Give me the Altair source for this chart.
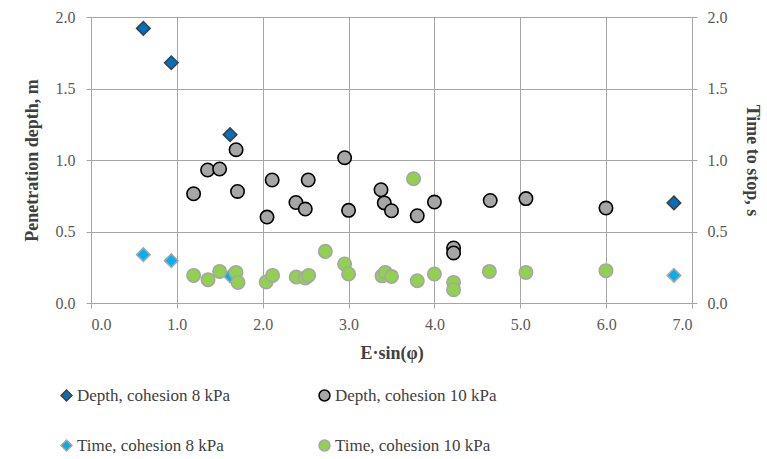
import altair as alt
import pandas as pd

D8, D10, T8, T10 = ("Depth, cohesion 8 kPa", "Depth, cohesion 10 kPa",
                    "Time, cohesion 8 kPa", "Time, cohesion 10 kPa")
SERIES = [D8, T8, D10, T10]

depth8_x = [0.61, 0.935, 1.62, 6.79]
depth8_y = [1.92, 1.68, 1.177, 0.70]

depth10_x = [1.195, 1.358, 1.498, 1.69, 1.707, 2.05, 2.11, 2.387, 2.496, 2.53, 2.954,
             3.0, 3.378, 3.416, 3.50, 3.80, 4.0, 4.223, 4.223, 4.65, 5.066, 5.998]
depth10_y = [0.764, 0.93, 0.937, 1.072, 0.78, 0.601, 0.86, 0.703, 0.657, 0.86, 1.016,
             0.648, 0.792, 0.70, 0.645, 0.61, 0.706, 0.385, 0.35, 0.717, 0.73, 0.664]

time8_x = [0.61, 0.935, 1.62, 6.79]
time8_y = [0.338, 0.296, 0.19, 0.193]

time10_x = [1.195, 1.363, 1.498, 1.689, 1.712, 2.04, 2.115, 2.39, 2.496, 2.535, 2.729, 2.954,
            3.0, 3.39, 3.428, 3.50, 3.757, 3.80, 4.0, 4.223, 4.223, 4.64, 5.066, 5.998]
time10_y = [0.193, 0.163, 0.221, 0.214, 0.144, 0.147, 0.193, 0.182, 0.175, 0.193, 0.361, 0.273,
            0.203, 0.19, 0.214, 0.186, 0.869, 0.156, 0.203, 0.144, 0.093, 0.221, 0.214, 0.226]

x_ticks = [0, 1, 2, 3, 4, 5, 6, 7]
y_ticks = [0, 0.5, 1.0, 1.5, 2.0]

depth_df = pd.concat([
    pd.DataFrame({"x": depth8_x, "y": depth8_y, "series": D8}),
    pd.DataFrame({"x": depth10_x, "y": depth10_y, "series": D10}),
], ignore_index=True)
depth_df["order"] = range(len(depth_df))

time_df = pd.concat([
    pd.DataFrame({"x": time8_x, "y": time8_y, "series": T8}),
    pd.DataFrame({"x": time10_x, "y": time10_y, "series": T10}),
], ignore_index=True)
time_df["order"] = range(len(time_df))

FONT = "Liberation Serif"
GRID = "#A6A6A6"
FILLS = {D8: "#0070C0", D10: "#A6A6A6", T8: "#00B0F0", T10: "#92D050"}
STROKES = {D8: "#404040", D10: "#000000", T8: "#A6A6A6", T10: "#A6A6A6"}
SHAPES = {D8: "diamond", D10: "circle", T8: "diamond", T10: "circle"}

x_enc = alt.X("x:Q", scale=alt.Scale(domain=[0, 7], nice=False),
              axis=alt.Axis(values=x_ticks, format=".1f", title="E·sin(φ)",
                            grid=True, titlePadding=12, labelPadding=8))

legend = alt.Legend(title=None, orient="none", legendX=-33, legendY=370,
                    columns=2, columnPadding=86, rowPadding=32,
                    labelFont=FONT, labelFontSize=17, labelColor="#404040",
                    labelLimit=0, symbolSize=120, symbolStrokeWidth=1.5,
                    labelOffset=2, padding=0)

fill_enc = alt.Fill("series:N", scale=alt.Scale(domain=SERIES,
                    range=[FILLS[s] for s in SERIES]), legend=legend)
stroke_enc = alt.Stroke("series:N", scale=alt.Scale(domain=SERIES,
                        range=[STROKES[s] for s in SERIES]), legend=legend)
shape_enc = alt.Shape("series:N", scale=alt.Scale(domain=SERIES,
                      range=[SHAPES[s] for s in SERIES]), legend=legend)

depth = alt.Chart(depth_df).mark_point(filled=False, size=180, strokeWidth=1.6, opacity=1).encode(
    x=x_enc,
    y=alt.Y("y:Q", scale=alt.Scale(domain=[0, 2], nice=False),
            axis=alt.Axis(orient="left", values=y_ticks, format=".1f",
                          title="Penetration depth, m", grid=True,
                          titlePadding=14, labelPadding=11)),
    fill=fill_enc, stroke=stroke_enc, shape=shape_enc,
    order=alt.Order("order:Q"),
)

time = alt.Chart(time_df).mark_point(filled=False, size=180, strokeWidth=1.6, opacity=1).encode(
    x=x_enc,
    y=alt.Y("y:Q", scale=alt.Scale(domain=[0, 2], nice=False),
            axis=alt.Axis(orient="right", values=y_ticks, format=".1f",
                          title="Time to stop, s", grid=False,
                          titlePadding=15, labelPadding=10)),
    fill=fill_enc, stroke=stroke_enc, shape=shape_enc,
    order=alt.Order("order:Q"),
)

chart = alt.layer(depth, time).resolve_scale(y="independent").properties(
    width=601, height=286,
    autosize=alt.AutoSizeParams(type="none"),
    padding={"left": 91, "top": 17, "right": 75, "bottom": 156},
    background="white",
).configure_view(stroke=None).configure_axis(
    labelFont=FONT, labelFontSize=16, labelColor="#595959",
    titleFont=FONT, titleFontSize=18, titleFontWeight="bold", titleColor="#404040",
    gridColor=GRID, gridWidth=1, gridOpacity=1,
    domainColor=GRID, domainWidth=1, tickColor=GRID, tickSize=5, tickWidth=1,
)

chart.save("out.html", embed_options={"renderer": "svg", "actions": False})
